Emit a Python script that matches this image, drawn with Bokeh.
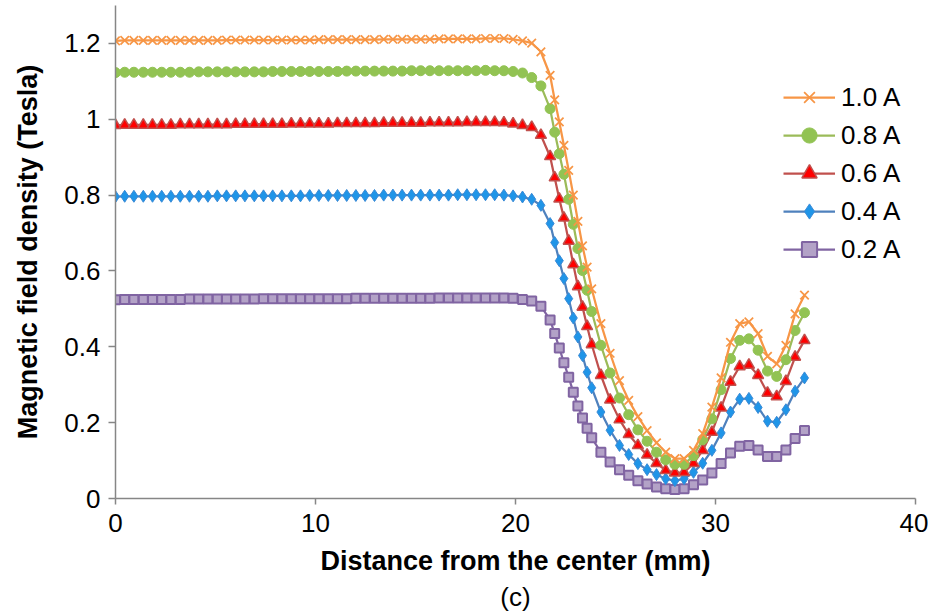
from bokeh.plotting import figure
from bokeh.models import Range1d, FixedTicker, Legend, LegendItem, Title
from bokeh.embed import file_html
from bokeh.resources import INLINE

# Distance from the center (mm); the mesh is refined across the pole edge
distance_mm = [
    0.00, 0.46, 0.92, 1.39, 1.85, 2.31, 2.77, 3.24, 3.70, 4.16,
    4.62, 5.09, 5.55, 6.01, 6.47, 6.94, 7.40, 7.86, 8.32, 8.79,
    9.25, 9.71, 10.17, 10.64, 11.10, 11.56, 12.02, 12.48, 12.95, 13.41,
    13.87, 14.33, 14.80, 15.26, 15.72, 16.18, 16.65, 17.11, 17.57, 18.03,
    18.50, 18.96, 19.42, 19.88, 20.35, 20.81, 21.27, 21.73,
    21.96, 22.19, 22.42, 22.66, 22.89, 23.12, 23.35, 23.58, 23.81,
    24.27, 24.73, 25.20, 25.66, 26.12, 26.58, 27.05, 27.51, 27.97, 28.43,
    28.90, 29.36, 29.82, 30.28, 30.75, 31.21, 31.67, 32.13, 32.60, 33.06,
    33.52, 33.98, 34.45,
]

# Magnetic field density (T) for each coil current
b_1_0A = [
    1.207, 1.208, 1.208, 1.208, 1.208, 1.208, 1.208, 1.208, 1.208, 1.208,
    1.208, 1.208, 1.209, 1.209, 1.209, 1.209, 1.209, 1.209, 1.209, 1.209,
    1.209, 1.209, 1.210, 1.210, 1.210, 1.210, 1.210, 1.210, 1.210, 1.211,
    1.211, 1.211, 1.211, 1.211, 1.211, 1.212, 1.212, 1.212, 1.212, 1.212,
    1.213, 1.213, 1.213, 1.211, 1.207, 1.201, 1.178, 1.116,
    1.051, 0.993, 0.931, 0.865, 0.800, 0.731, 0.666, 0.610, 0.553,
    0.461, 0.383, 0.311, 0.259, 0.216, 0.179, 0.147, 0.122, 0.105, 0.105,
    0.127, 0.171, 0.241, 0.318, 0.412, 0.461, 0.466, 0.435, 0.375, 0.355,
    0.404, 0.487, 0.536,
]
b_0_8A = [
    1.123, 1.124, 1.124, 1.124, 1.124, 1.124, 1.124, 1.124, 1.124, 1.125,
    1.125, 1.125, 1.125, 1.125, 1.125, 1.125, 1.125, 1.126, 1.126, 1.126,
    1.126, 1.126, 1.126, 1.126, 1.126, 1.127, 1.127, 1.127, 1.127, 1.127,
    1.127, 1.127, 1.128, 1.128, 1.128, 1.128, 1.128, 1.128, 1.128, 1.128,
    1.129, 1.128, 1.128, 1.126, 1.122, 1.110, 1.088, 1.028,
    0.966, 0.909, 0.855, 0.789, 0.723, 0.659, 0.601, 0.549, 0.493,
    0.404, 0.331, 0.265, 0.221, 0.181, 0.151, 0.122, 0.102, 0.090, 0.090,
    0.113, 0.155, 0.210, 0.287, 0.369, 0.417, 0.421, 0.391, 0.336, 0.322,
    0.366, 0.443, 0.490,
]
b_0_6A = [
    0.984, 0.985, 0.985, 0.985, 0.985, 0.985, 0.985, 0.986, 0.986, 0.986,
    0.986, 0.986, 0.986, 0.987, 0.987, 0.987, 0.987, 0.987, 0.987, 0.988,
    0.988, 0.988, 0.988, 0.988, 0.989, 0.989, 0.989, 0.989, 0.989, 0.990,
    0.990, 0.990, 0.990, 0.990, 0.991, 0.991, 0.991, 0.991, 0.992, 0.992,
    0.992, 0.992, 0.991, 0.988, 0.984, 0.979, 0.958, 0.902,
    0.846, 0.790, 0.740, 0.679, 0.617, 0.559, 0.505, 0.454, 0.406,
    0.325, 0.260, 0.208, 0.169, 0.140, 0.115, 0.093, 0.074, 0.068, 0.069,
    0.093, 0.127, 0.175, 0.239, 0.307, 0.348, 0.352, 0.325, 0.278, 0.269,
    0.309, 0.373, 0.417,
]
b_0_4A = [
    0.796, 0.797, 0.797, 0.797, 0.797, 0.797, 0.797, 0.797, 0.797, 0.797,
    0.797, 0.798, 0.798, 0.798, 0.798, 0.798, 0.798, 0.798, 0.798, 0.798,
    0.798, 0.799, 0.799, 0.799, 0.799, 0.799, 0.799, 0.799, 0.799, 0.800,
    0.800, 0.800, 0.800, 0.800, 0.800, 0.800, 0.800, 0.801, 0.801, 0.801,
    0.801, 0.801, 0.800, 0.798, 0.795, 0.789, 0.773, 0.725,
    0.675, 0.627, 0.580, 0.527, 0.476, 0.426, 0.377, 0.333, 0.292,
    0.228, 0.180, 0.140, 0.116, 0.092, 0.076, 0.063, 0.052, 0.047, 0.052,
    0.069, 0.093, 0.127, 0.173, 0.228, 0.262, 0.264, 0.240, 0.204, 0.201,
    0.234, 0.283, 0.318,
]
b_0_2A = [
    0.524, 0.525, 0.525, 0.525, 0.525, 0.525, 0.525, 0.525, 0.526, 0.526,
    0.526, 0.526, 0.526, 0.526, 0.526, 0.526, 0.527, 0.527, 0.527, 0.527,
    0.527, 0.527, 0.527, 0.527, 0.527, 0.527, 0.528, 0.528, 0.528, 0.528,
    0.528, 0.528, 0.528, 0.528, 0.528, 0.529, 0.529, 0.529, 0.529, 0.529,
    0.529, 0.529, 0.529, 0.528, 0.525, 0.521, 0.507, 0.471,
    0.435, 0.397, 0.358, 0.320, 0.280, 0.244, 0.212, 0.185, 0.160,
    0.122, 0.096, 0.076, 0.061, 0.047, 0.038, 0.030, 0.026, 0.024, 0.026,
    0.036, 0.049, 0.067, 0.092, 0.120, 0.138, 0.140, 0.128, 0.111, 0.111,
    0.128, 0.158, 0.179,
]

x_ticks = [0, 10, 20, 30, 40]
y_ticks = [0, 0.2, 0.4, 0.6, 0.8, 1.0, 1.2]
y_tick_labels = ["0", "0.2", "0.4", "0.6", "0.8", "1", "1.2"]

FONT = "Liberation Sans"
AXIS_GREY = "#868686"

p = figure(
    frame_width=800, frame_height=493,
    min_border_left=115, min_border_right=13, min_border_top=5, min_border_bottom=4,
    x_range=Range1d(0, 40), y_range=Range1d(0, 1.3),
    output_backend="svg", toolbar_location=None,
)
p.outline_line_color = None
p.grid.visible = False
p.background_fill_color = "white"
p.border_fill_color = "white"

for ax in (p.xaxis[0], p.yaxis[0]):
    ax.axis_line_color = AXIS_GREY
    ax.axis_line_width = 1.5
    ax.major_tick_line_color = AXIS_GREY
    ax.major_tick_line_width = 1.5
    ax.major_tick_in = 0
    ax.minor_tick_line_color = None
    ax.major_label_text_font = FONT
    ax.major_label_text_font_size = "26px"
    ax.major_label_text_color = "black"
    ax.axis_label_text_font = FONT
    ax.axis_label_text_font_size = "27px"
    ax.axis_label_text_font_style = "bold"
    ax.axis_label_text_color = "black"

p.xaxis.ticker = FixedTicker(ticks=x_ticks)
p.xaxis.major_tick_out = 6
p.xaxis.major_label_standoff = 9
p.xaxis.axis_label = "Distance from the center (mm)"
p.xaxis.axis_label_standoff = 11

p.yaxis.ticker = FixedTicker(ticks=y_ticks)
p.yaxis.major_label_overrides = dict(zip(y_ticks, y_tick_labels))
p.yaxis.major_tick_out = 7
p.yaxis.major_label_standoff = 8
p.yaxis.axis_label = "Magnetic field density (Tesla)"
p.yaxis.axis_label_standoff = 18

series = [
    ("0.2 A", b_0_2A, "#8064A2", dict(marker="square", size=9, fill_color="#B3A2C7",
                                      line_color="#8064A2", line_width=2)),
    ("0.4 A", b_0_4A, "#4F81BD", dict(marker="diamond", size=12, fill_color="#1F95E8",
                                      line_color="#3A8AD6", line_width=1)),
    ("0.6 A", b_0_6A, "#C0504D", dict(marker="triangle", size=11, fill_color="#FF0000",
                                      line_color="#C0504D", line_width=1.5)),
    ("0.8 A", b_0_8A, "#9BBB59", dict(marker="circle", size=10, fill_color="#92C353",
                                      line_color="#92C353", line_width=1)),
    ("1.0 A", b_1_0A, "#F79646", dict(marker="x", size=12, line_color="#F79646",
                                      line_width=1.75)),
]

items = []
for label, values, color, mk in series:
    ln = p.line(distance_mm, values, line_color=color, line_width=2.25)
    sc = p.scatter(distance_mm, values, **mk)
    items.append(LegendItem(label=label, renderers=[ln, sc]))

legend = Legend(
    items=items[::-1],
    location=(668, 230),
    glyph_width=52, glyph_height=38, label_height=38,
    spacing=0, padding=0, margin=0, label_standoff=6,
    label_text_font=FONT, label_text_font_size="26px", label_text_color="black",
    border_line_color=None, background_fill_alpha=0,
)
p.add_layout(legend, "center")

p.add_layout(Title(text="(c)", align="center", text_font=FONT, text_font_size="26px",
                   text_font_style="normal", text_color="black", standoff=3), "below")

open("out.html", "w").write(file_html(p, INLINE))
